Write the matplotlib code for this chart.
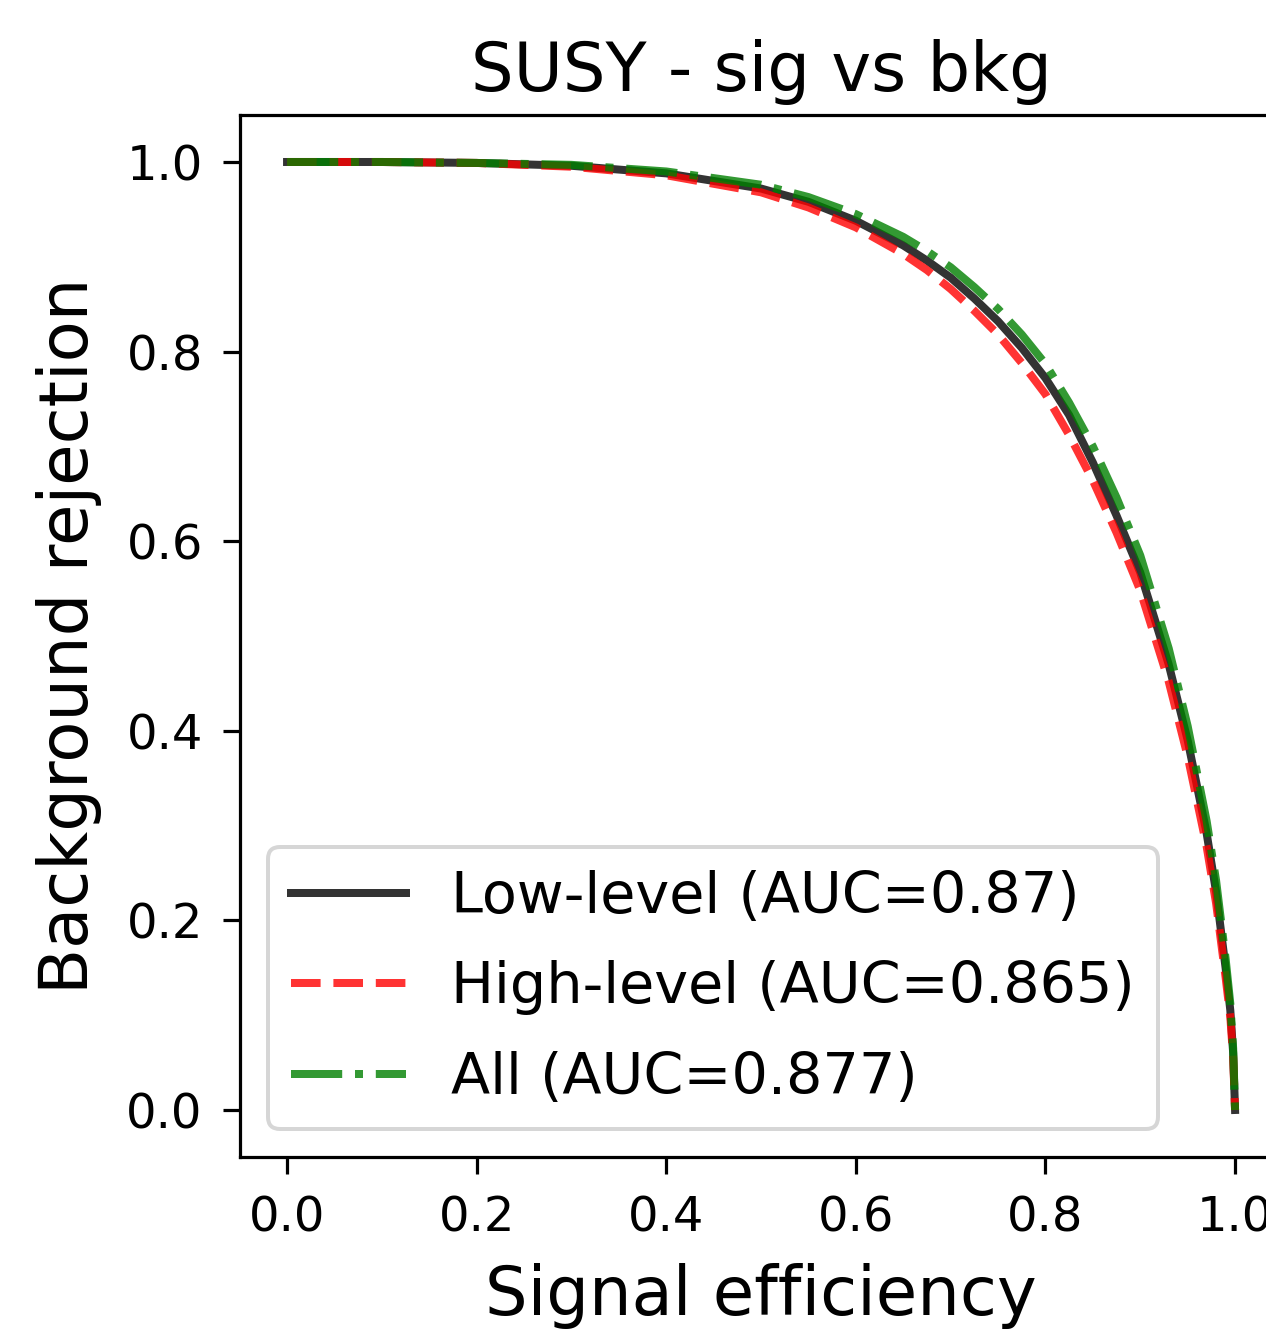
"""ROC-style curves: background rejection vs signal efficiency for SUSY."""

import matplotlib

matplotlib.use("Agg")
import matplotlib.pyplot as plt

# signal efficiency samples shared by the three curves
sig_eff = [0.0, 0.1, 0.2, 0.3, 0.4, 0.5, 0.55, 0.6, 0.65, 0.675, 0.7, 0.725,
           0.75, 0.775, 0.8, 0.825, 0.85, 0.875, 0.9, 0.93, 0.95, 0.97, 0.98,
           0.99, 0.995, 0.998, 1.0]

# background rejection
bkg_low = [1.0, 1.0, 0.999, 0.996, 0.988, 0.972, 0.958, 0.938, 0.912, 0.896,
           0.878, 0.856, 0.832, 0.804, 0.772, 0.733, 0.683, 0.627, 0.567,
           0.470, 0.390, 0.292, 0.230, 0.150, 0.105, 0.060, 0.0]
bkg_high = [1.0, 1.0, 0.999, 0.995, 0.986, 0.968, 0.952, 0.931, 0.903, 0.886,
            0.866, 0.843, 0.818, 0.788, 0.755, 0.712, 0.664, 0.609, 0.548,
            0.452, 0.373, 0.278, 0.218, 0.140, 0.098, 0.055, 0.0]
bkg_all = [1.0, 1.0, 0.999, 0.997, 0.990, 0.976, 0.963, 0.945, 0.921, 0.906,
           0.889, 0.868, 0.845, 0.818, 0.787, 0.746, 0.700, 0.646, 0.585,
           0.487, 0.405, 0.305, 0.242, 0.160, 0.112, 0.065, 0.0]

labels = ["Low-level (AUC=0.87)", "High-level (AUC=0.865)", "All (AUC=0.877)"]

DPI = 288
fig = plt.figure(figsize=(1266 / DPI, 1334 / DPI), dpi=DPI)
# axes run past the right edge of the figure, like the cropped reference
ax = fig.add_axes([0.1893, 0.1324, 0.8237, 0.7817])

ax.plot(sig_eff, bkg_low, color="k", ls="-", lw=2, alpha=0.8, label=labels[0])
ax.plot(sig_eff, bkg_high, color="r", ls="--", lw=2, alpha=0.8, label=labels[1])
ax.plot(sig_eff, bkg_all, color="g", ls="-.", lw=2, alpha=0.8, label=labels[2])

ax.set_xlim(-0.05, 1.05)
ax.set_ylim(-0.05, 1.05)
ax.set_xticks([0.0, 0.2, 0.4, 0.6, 0.8, 1.0])
ax.set_yticks([0.0, 0.2, 0.4, 0.6, 0.8, 1.0])
ax.tick_params(labelsize=12, length=4.2, pad=5)
ax.set_xlabel("Signal efficiency", fontsize=16.8, labelpad=5.5)
ax.set_ylabel("Background rejection", fontsize=16.8, labelpad=6)
ax.set_title("SUSY - sig vs bkg", fontsize=16.8, pad=6)
ax.legend(loc="lower left", fontsize=14.3, labelspacing=0.62)

fig.savefig("out.png", dpi=DPI)
